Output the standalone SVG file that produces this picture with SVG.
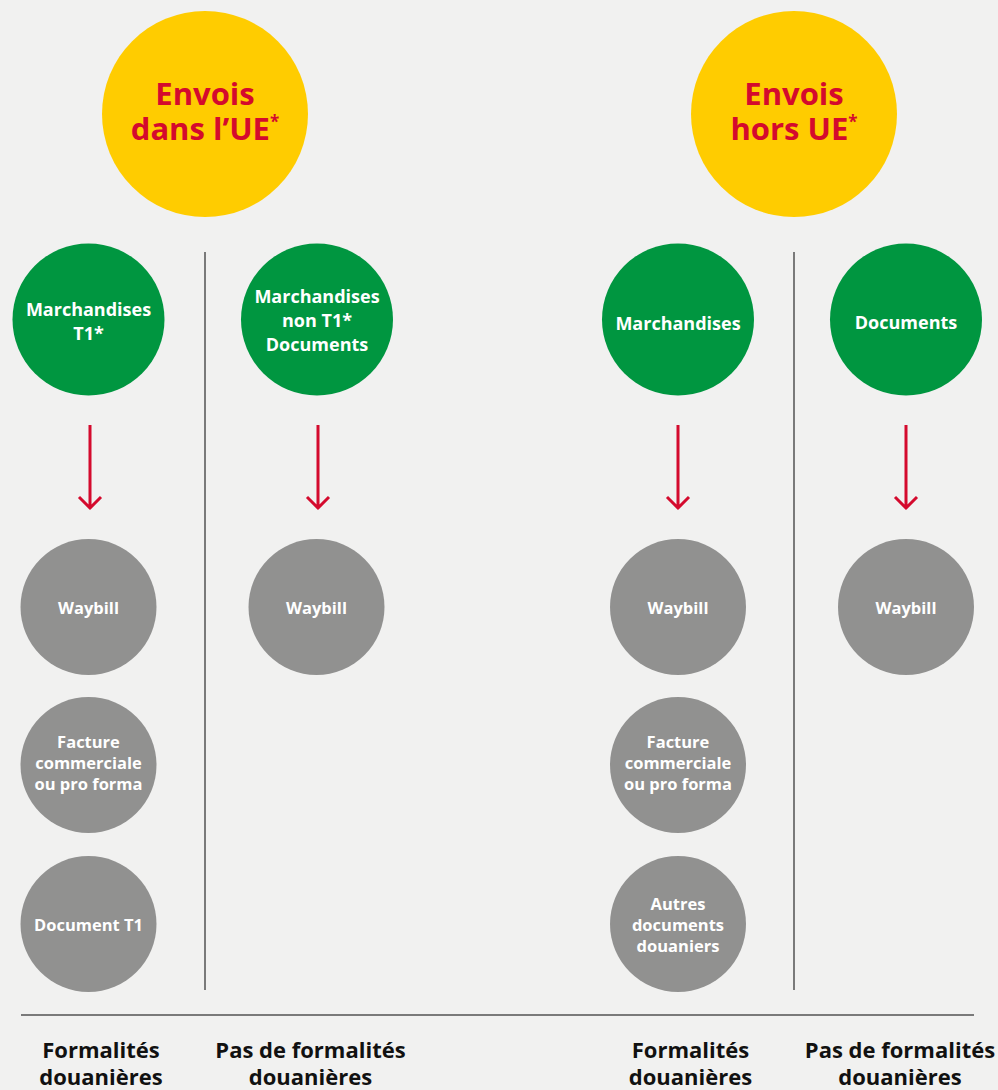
<svg xmlns="http://www.w3.org/2000/svg" width="998" height="1090" viewBox="0 0 998 1090">
<defs>
<style>
.bg{fill:#f1f1f0}
.yel{fill:#ffcc00}
.grn{fill:#009640}
.gry{fill:#919190}
.t{font-family:"Open Sans","Noto Sans","DejaVu Sans",sans-serif;font-weight:700;text-anchor:middle}
.ty{fill:#d40a2d;font-size:31px}
.sup{font-size:17px}
.tg{fill:#ffffff;font-size:18px}
.tw{fill:#ffffff;font-size:16.5px}
.tb{fill:#111111;font-size:22px}
.div{stroke:#7a7a7a;stroke-width:2;fill:none}
.arr{stroke:#d40a2d;stroke-width:3;fill:none}
</style>
</defs>
<rect class="bg" x="0" y="0" width="998" height="1090"/>

<g id="connectors">
<line class="div" x1="205" y1="252" x2="205" y2="990"/>
<line class="div" x1="794" y1="252" x2="794" y2="990"/>
<line class="div" x1="21" y1="1015" x2="974" y2="1015"/>
<path d="M90 425 V508 M79 497 L90 508 L101 497" class="arr"/>
<path d="M318 425 V508 M307 497 L318 508 L329 497" class="arr"/>
<path d="M678 425 V508 M667 497 L678 508 L689 497" class="arr"/>
<path d="M906 425 V508 M895 497 L906 508 L917 497" class="arr"/>
</g>

<g id="envois-ue">
<circle class="yel" cx="205" cy="114" r="103"/>
<text class="t ty" x="205" y="105">Envois<tspan x="205" dy="35">dans l’UE</tspan><tspan class="sup" dy="-12">*</tspan></text>
</g>
<g id="envois-hors-ue">
<circle class="yel" cx="794" cy="114" r="103"/>
<text class="t ty" x="794" y="105">Envois<tspan x="794" dy="35">hors UE</tspan><tspan class="sup" dy="-12">*</tspan></text>
</g>

<g id="marchandises-t1">
<circle class="grn" cx="88.5" cy="319.5" r="76"/>
<text class="t tg" x="88.5" y="316">Marchandises<tspan x="88.5" dy="24">T1*</tspan></text>
</g>
<g id="marchandises-non-t1">
<circle class="grn" cx="317" cy="319.5" r="76"/>
<text class="t tg" x="317" y="303">Marchandises<tspan x="317" dy="24">non T1*</tspan><tspan x="317" dy="24">Documents</tspan></text>
</g>
<g id="marchandises">
<circle class="grn" cx="678" cy="319.5" r="76"/>
<text class="t tg" x="678" y="330">Marchandises</text>
</g>
<g id="documents">
<circle class="grn" cx="906" cy="319.5" r="76"/>
<text class="t tg" x="906" y="329">Documents</text>
</g>

<g id="waybill-1">
<circle class="gry" cx="88.5" cy="607" r="68"/>
<text class="t tw" x="88.5" y="614">Waybill</text>
</g>
<g id="facture-1">
<circle class="gry" cx="88.5" cy="765" r="68"/>
<text class="t tw" x="88.5" y="748">Facture<tspan x="88.5" dy="21">commerciale</tspan><tspan x="88.5" dy="21">ou pro forma</tspan></text>
</g>
<g id="document-t1">
<circle class="gry" cx="88.5" cy="924" r="68"/>
<text class="t tw" x="88.5" y="931">Document T1</text>
</g>
<g id="waybill-2">
<circle class="gry" cx="316.5" cy="607" r="68"/>
<text class="t tw" x="316.5" y="614">Waybill</text>
</g>
<g id="waybill-3">
<circle class="gry" cx="678" cy="607" r="68"/>
<text class="t tw" x="678" y="614">Waybill</text>
</g>
<g id="facture-2">
<circle class="gry" cx="678" cy="765" r="68"/>
<text class="t tw" x="678" y="748">Facture<tspan x="678" dy="21">commerciale</tspan><tspan x="678" dy="21">ou pro forma</tspan></text>
</g>
<g id="autres-documents">
<circle class="gry" cx="678" cy="924" r="68"/>
<text class="t tw" x="678" y="910">Autres<tspan x="678" dy="21">documents</tspan><tspan x="678" dy="21">douaniers</tspan></text>
</g>
<g id="waybill-4">
<circle class="gry" cx="906" cy="607" r="68"/>
<text class="t tw" x="906" y="614">Waybill</text>
</g>

<g id="labels">
<text class="t tb" x="101" y="1058">Formalités<tspan x="101" dy="27">douanières</tspan></text>
<text class="t tb" x="310.5" y="1058">Pas de formalités<tspan x="310.5" dy="27">douanières</tspan></text>
<text class="t tb" x="690.5" y="1058">Formalités<tspan x="690.5" dy="27">douanières</tspan></text>
<text class="t tb" x="900" y="1058">Pas de formalités<tspan x="900" dy="27">douanières</tspan></text>
</g>
</svg>
